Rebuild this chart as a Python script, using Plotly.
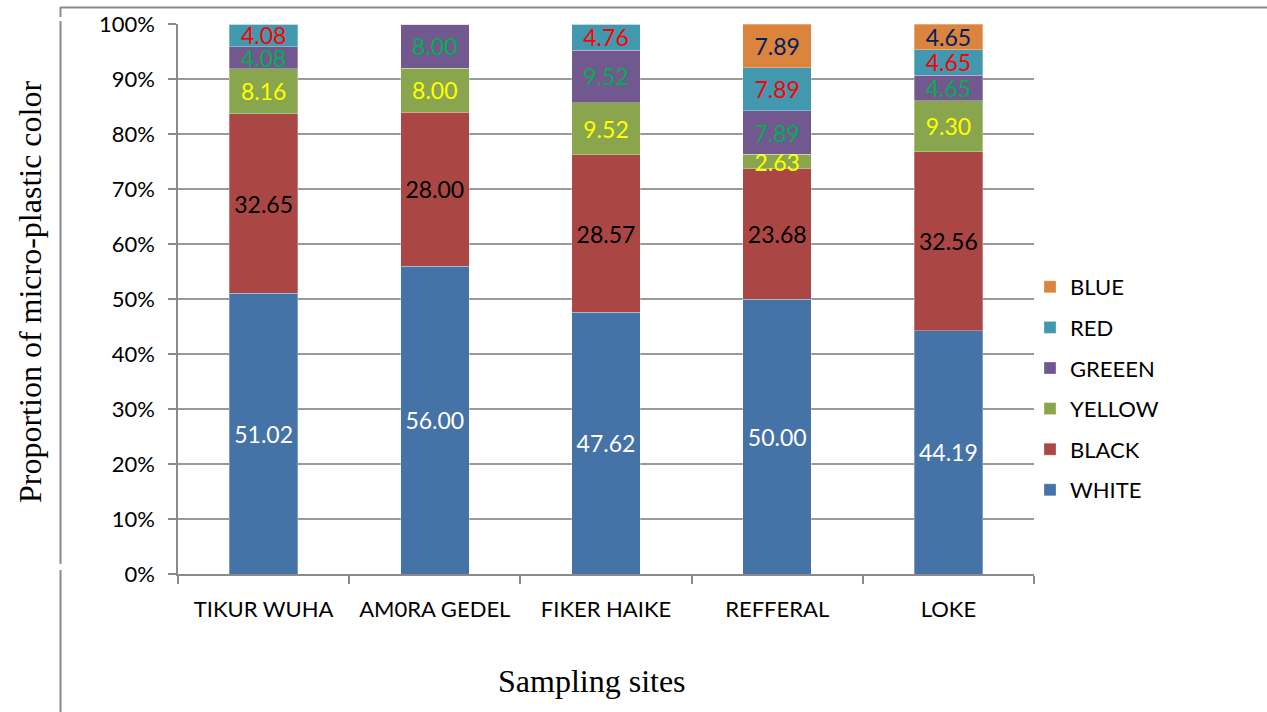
import plotly.graph_objects as go

# Sampling sites and micro-plastic colour composition (%)
sites = ["TIKUR WUHA", "AM0RA GEDEL", "FIKER HAIKE", "REFFERAL", "LOKE"]
white = [51.02, 56.00, 47.62, 50.00, 44.19]
black = [32.65, 28.00, 28.57, 23.68, 32.56]
yellow = [8.16, 8.00, 9.52, 2.63, 9.30]
green = [4.08, 8.00, 9.52, 7.89, 4.65]
red = [4.08, 0.00, 4.76, 7.89, 4.65]
blue = [0.00, 0.00, 0.00, 7.89, 4.65]

series_names = ["WHITE", "BLACK", "YELLOW", "GREEEN", "RED", "BLUE"]
series_values = [white, black, yellow, green, red, blue]
fill_colors = ["#4572A7", "#AA4643", "#89A54E", "#71588F", "#4198AF", "#DB843D"]
label_colors = ["#FFFFFF", "#000000", "#FFFF00", "#00B050", "#FF0000", "#002060"]

W, H = 1267, 712
ML, MR, MT, MB = 178, 233, 24, 138
PW, PH = W - ML - MR, H - MT - MB

FONT = "Lato"

fig = go.Figure()
n = len(series_names)
for i, (name, vals, fc, lc) in enumerate(zip(series_names, series_values, fill_colors, label_colors)):
    fig.add_trace(go.Bar(
        name=name,
        x=sites,
        y=vals,
        marker=dict(color=fc, line=dict(color="rgba(255,255,255,0.5)", width=0.6)),
        text=[f"{v:.2f}" if v > 0 else "" for v in vals],
        textposition="inside",
        insidetextanchor="middle",
        textangle=0,
        constraintext="none",
        textfont=dict(family=FONT, size=23, color=lc),
        legendgroup=name,
        legendrank=n - i,
        hoverinfo="skip",
    ))


def px_x(p):
    return (p - ML) / PW


def px_y(p):
    return (H - MB - p) / PH


shapes = []
# outer frame lines (top edge and broken left edge)
shapes.append(dict(type="line", xref="paper", yref="paper",
                   x0=px_x(60), x1=px_x(1267), y0=px_y(7.5), y1=px_y(7.5),
                   line=dict(color="#8a8a8a", width=2)))
for a, b in [(7, 17), (21, 564), (570, 712)]:
    shapes.append(dict(type="line", xref="paper", yref="paper",
                       x0=px_x(60.5), x1=px_x(60.5), y0=px_y(a), y1=px_y(b),
                       line=dict(color="#8a8a8a", width=2)))

fig.update_layout(
    width=W, height=H,
    margin=dict(l=ML, r=MR, t=MT, b=MB, autoexpand=False),
    paper_bgcolor="white",
    plot_bgcolor="white",
    barmode="stack",
    bargap=0.6,
    showlegend=True,
    legend=dict(
        x=px_x(1030), y=px_y(266), xanchor="left", yanchor="top",
        traceorder="grouped",
        tracegroupgap=9,
        font=dict(family=FONT, size=22, color="#000000"),
        itemwidth=30,
        bgcolor="rgba(0,0,0,0)",
    ),
    xaxis=dict(
        showgrid=False,
        showline=True, linecolor="#8a8a8a", linewidth=1.5,
        ticks="outside", ticklen=8, tickcolor="#8a8a8a", tickwidth=1.5,
        tickson="boundaries",
        tickfont=dict(family=FONT, size=22, color="#000000"),
        ticklabelstandoff=15,
        fixedrange=True,
    ),
    yaxis=dict(
        range=[0, 100],
        tickvals=[0, 10, 20, 30, 40, 50, 60, 70, 80, 90, 100],
        ticktext=["0%", "10%", "20%", "30%", "40%", "50%", "60%", "70%", "80%", "90%", "100%"],
        showgrid=True, gridcolor="#999999", gridwidth=1.5,
        showline=True, linecolor="#8a8a8a", linewidth=1.5,
        ticks="outside", ticklen=8, tickcolor="#8a8a8a", tickwidth=1.5,
        tickfont=dict(family=FONT, size=22, color="#000000"),
        ticklabelstandoff=9,
        zeroline=False,
        fixedrange=True,
    ),
    shapes=shapes,
    annotations=[
        dict(text="Sampling sites", xref="paper", yref="paper",
             x=px_x(592), y=px_y(681), xanchor="center", yanchor="middle",
             showarrow=False,
             font=dict(family="Liberation Serif", size=32, color="#000000")),
        dict(text="Proportion of micro-plastic color", xref="paper", yref="paper",
             x=px_x(30), y=px_y(292), xanchor="center", yanchor="middle",
             textangle=-90, showarrow=False,
             font=dict(family="Liberation Serif", size=32, color="#000000")),
    ],
)

fig.write_html("out.html")
